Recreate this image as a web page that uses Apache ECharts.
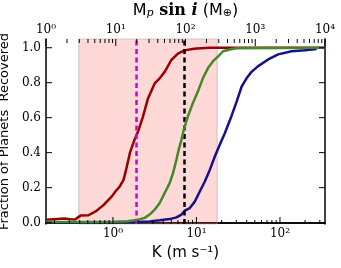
<!DOCTYPE html>
<html>
<head>
<meta charset="utf-8">
<script src="https://cdn.jsdelivr.net/npm/echarts@6/dist/echarts.min.js"></script>
<style>
html,body{margin:0;padding:0;background:#fff;}
#c{width:341px;height:268px;}
</style>
</head>
<body>
<div id="c"></div>
<script>
// ---- data ----
const redK    = [0.16, 0.26, 0.35, 0.41, 0.51, 0.62, 0.77, 0.97, 1.07, 1.2, 1.34, 1.45, 1.6, 1.8, 2.03, 2.29, 2.63, 3.16, 3.63, 4.17, 5.0, 6.0, 7.2, 9.0, 10, 14.4, 345];
const redFrac = [0.017, 0.024, 0.017, 0.04, 0.042, 0.064, 0.10, 0.15, 0.178, 0.205, 0.245, 0.31, 0.40, 0.47, 0.53, 0.606, 0.71, 0.796, 0.825, 0.862, 0.93, 0.966, 0.985, 0.993, 0.995, 1.0, 1.0];

const greenK    = [0.16, 0.5, 1.0, 1.5, 1.8, 2.13, 2.40, 2.75, 3.16, 3.63, 4.17, 4.78, 5.24, 5.76, 6.19, 6.61, 7.04, 7.93, 9.10, 10.45, 12.0, 13.8, 15.8, 18.2, 20.8, 25.1, 30.2, 345];
const greenFrac = [0.004, 0.004, 0.005, 0.008, 0.013, 0.02, 0.027, 0.046, 0.074, 0.112, 0.17, 0.226, 0.283, 0.36, 0.425, 0.473, 0.53, 0.61, 0.686, 0.752, 0.828, 0.885, 0.923, 0.951, 0.98, 0.99, 0.997, 1.0];

const blueK    = [0.16, 1.0, 2.0, 2.75, 3.63, 4.78, 5.76, 6.61, 7.24, 8.32, 9.55, 10.96, 12.6, 14.4, 16.6, 19.0, 21.8, 26.3, 30.2, 34.7, 39.8, 45.6, 54.8, 72.2, 95.1, 137.8, 199, 275];
const blueFrac = [0.0, 0.002, 0.004, 0.007, 0.013, 0.02, 0.03, 0.046, 0.068, 0.083, 0.12, 0.178, 0.235, 0.30, 0.378, 0.445, 0.51, 0.61, 0.69, 0.777, 0.825, 0.862, 0.895, 0.933, 0.962, 0.98, 0.986, 0.993];

const bandK = [0.39, 17.7];        // shaded region (K)
const magentaK = 1.9;              // dashed magenta line
const blackK = 7.24;               // dashed black line

const bottomMajor = [1, 10, 100];
const bottomMinor = [0.2,0.3,0.4,0.5,0.6,0.7,0.8,0.9, 2,3,4,5,6,7,8,9, 20,30,40,50,60,70,80,90, 200,300];
const topMajor = [1, 10, 100, 1000, 10000];
const topMinor = [2,3,4,5,6,7,8,9, 20,30,40,50,60,70,80,90, 200,300,400,500,600,700,800,900, 2000,3000,4000,5000,6000,7000,8000,9000];
const yTicks = [0, 0.2, 0.4, 0.6, 0.8, 1.0];

// ---- chart ----
const sup = {'0':'⁰','1':'¹','2':'²','3':'³','4':'⁴','-':'⁻'};
function powLabel(v){
  const e = String(Math.round(Math.log10(v)));
  return '10' + e.split('').map(c => sup[c]).join('');
}
const zip = (a, b) => a.map((x, i) => [x, b[i]]);

const serif = 'DejaVu Serif';
const sans = 'DejaVu Sans';
const axisLine = {show: true, lineStyle: {color: '#000', width: 1.5}};

const kMin = 0.158, kMax = 346, mMin = 1, mMax = 10000, yMin = -0.008, yMax = 1.05;
const MAJ = 7, MIN = 4, YT = 6;

const chart = echarts.init(document.getElementById('c'), null, {renderer: 'canvas'});
chart.setOption({
  animation: false,
  backgroundColor: '#fff',
  grid: {left: 46, right: 16, top: 39, bottom: 44, containLabel: false, outerBoundsMode: 'none'},
  xAxis: [
    { // bottom
      type: 'log', logBase: 10, min: kMin, max: kMax, position: 'bottom',
      axisLine: axisLine,
      axisTick: {show: false}, minorTick: {show: false},
      axisLabel: {show: true, customValues: bottomMajor, formatter: v => powLabel(v), fontFamily: serif, fontSize: 12, color: '#000', margin: 4},
      splitLine: {show: false}, minorSplitLine: {show: false},
      name: 'K (m s⁻¹)', nameLocation: 'middle', nameGap: 22,
      nameTextStyle: {fontFamily: sans, fontSize: 15, color: '#000'}
    },
    { // top
      type: 'log', logBase: 10, min: mMin, max: mMax, position: 'top',
      axisLine: axisLine,
      axisTick: {show: false}, minorTick: {show: false},
      axisLabel: {show: true, customValues: topMajor, formatter: v => powLabel(v), fontFamily: serif, fontSize: 12, color: '#000', margin: 3},
      splitLine: {show: false}, minorSplitLine: {show: false},
      name: '{m|M}{s|p}{f| sin }{i|i}{m| (M}{s2|⊕}{m|)}', nameLocation: 'middle', nameGap: 17,
      nameTextStyle: {
        color: '#000',
        rich: {
          m: {fontFamily: sans, fontSize: 16, color: '#000'},
          s: {fontFamily: serif, fontStyle: 'italic', fontSize: 11, color: '#000', verticalAlign: 'bottom', padding: [6, 0, 0, 0]},
          s2: {fontFamily: sans, fontSize: 11, color: '#000', verticalAlign: 'bottom', padding: [6, 0, 0, 0]},
          f: {fontFamily: serif, fontWeight: 'bold', fontSize: 16, color: '#000'},
          i: {fontFamily: serif, fontStyle: 'italic', fontWeight: 'bold', fontSize: 16, color: '#000'}
        }
      }
    }
  ],
  yAxis: [
    {
      type: 'value', min: yMin, max: yMax, position: 'left',
      axisLine: axisLine,
      axisTick: {show: false},
      axisLabel: {show: true, customValues: yTicks, formatter: v => v.toFixed(1), fontFamily: serif, fontSize: 12, color: '#000', margin: 5},
      splitLine: {show: false},
      name: 'Fraction of Planets  Recovered', nameLocation: 'middle', nameGap: 29,
      nameTextStyle: {fontFamily: sans, fontSize: 13, color: '#000'}
    },
    {
      type: 'value', min: yMin, max: yMax, position: 'right',
      axisLine: axisLine,
      axisTick: {show: false},
      axisLabel: {show: false},
      splitLine: {show: false}
    }
  ],
  series: [
    {
      name: 'red', type: 'line', xAxisIndex: 0, yAxisIndex: 0,
      data: zip(redK, redFrac), showSymbol: false, symbol: 'none',
      lineStyle: {color: '#9a0000', width: 2.5}, z: 3,
      markArea: {
        silent: true,
        itemStyle: {color: 'rgba(255,60,60,0.2)', borderColor: 'rgba(160,160,160,0.5)', borderWidth: 1},
        data: [[{xAxis: bandK[0]}, {xAxis: bandK[1]}]]
      }
    },
    {
      name: 'blue', type: 'line', xAxisIndex: 0, yAxisIndex: 0,
      data: zip(blueK, blueFrac), showSymbol: false, symbol: 'none',
      lineStyle: {color: '#16108a', width: 2.5}, z: 4
    },
    {
      name: 'green', type: 'line', xAxisIndex: 0, yAxisIndex: 0,
      data: zip(greenK, greenFrac), showSymbol: false, symbol: 'none',
      lineStyle: {color: '#44882a', width: 2.5}, z: 5,
      markLine: {
        silent: true, symbol: 'none', label: {show: false},
        data: [
          {xAxis: magentaK, lineStyle: {color: '#d000d0', width: 2.5, type: [5, 3.5]}},
          {xAxis: blackK, lineStyle: {color: '#000', width: 2.5, type: [5, 3.5]}}
        ]
      }
    }
  ]
});

// tick marks (inward, matplotlib style), positioned through the axes' own scales
const finderK = {xAxisIndex: 0, yAxisIndex: 0};
const finderM = {xAxisIndex: 1, yAxisIndex: 0};
const ticks = [];
function tick(p, dx, dy) {
  ticks.push({type: 'line', z: 100, silent: true,
    shape: {x1: p[0], y1: p[1], x2: p[0] + dx, y2: p[1] + dy},
    style: {stroke: '#000', lineWidth: 1}});
}
bottomMajor.forEach(v => tick(chart.convertToPixel(finderK, [v, yMin]), 0, -MAJ));
bottomMinor.forEach(v => tick(chart.convertToPixel(finderK, [v, yMin]), 0, -MIN));
topMajor.forEach(v => tick(chart.convertToPixel(finderM, [v, yMax]), 0, MAJ));
topMinor.forEach(v => tick(chart.convertToPixel(finderM, [v, yMax]), 0, MIN));
yTicks.forEach(v => {
  tick(chart.convertToPixel(finderK, [kMin, v]), YT, 0);
  tick(chart.convertToPixel(finderK, [kMax, v]), -YT, 0);
});
chart.setOption({graphic: {elements: ticks}});
</script>
</body>
</html>
